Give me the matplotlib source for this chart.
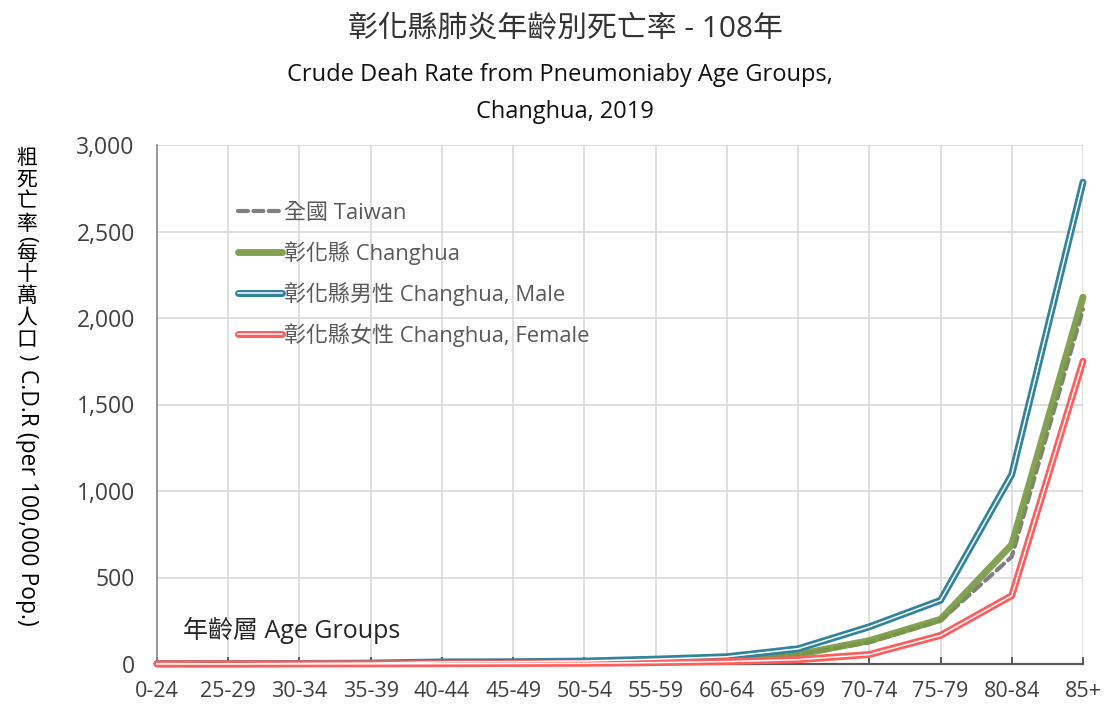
import matplotlib
matplotlib.use("Agg")
import matplotlib.pyplot as plt
from matplotlib.legend_handler import HandlerTuple

plt.rcParams['font.family'] = ['Open Sans', 'Noto Sans CJK TC', 'DejaVu Sans']

categories = ['0-24', '25-29', '30-34', '35-39', '40-44', '45-49', '50-54',
              '55-59', '60-64', '65-69', '70-74', '75-79', '80-84', '85+']
taiwan = [1, 1, 2, 3, 5, 7, 10, 15, 25, 55, 125, 250, 620, 2050]
changhua = [1, 1, 2, 3, 6, 8, 10, 15, 25, 55, 135, 258, 690, 2120]
male = [2, 1, 3, 5, 12, 13, 17, 28, 42, 88, 215, 368, 1095, 2785]
female = [1, 1, 1, 1, 2, 3, 4, 8, 14, 25, 55, 165, 395, 1750]
yticks = [0, 500, 1000, 1500, 2000, 2500, 3000]

labels = ['全國 Taiwan', '彰化縣 Changhua', '彰化縣男性 Changhua, Male', '彰化縣女性 Changhua, Female']
title = '彰化縣肺炎年齡別死亡率 - 108年'
subtitle1 = 'Crude Deah Rate from Pneumoniaby Age Groups,'
subtitle2 = 'Changhua, 2019'
ylabel_cjk = ['粗', '死', '亡', '率']
ylabel_cjk2 = ['每', '十', '萬', '人', '口']
ylabel_latin = 'C.D.R (per 100,000 Pop.)'
xlabel = '年齡層 Age Groups'

W, H = 1104, 707
fig = plt.figure(figsize=(W / 100, H / 100), dpi=100)
ax = fig.add_axes([157 / W, 1 - 664 / H, (1083 - 157) / W, (664 - 145) / H])

x = list(range(len(categories)))
c_gray = '#808080'
c_green = '#7A9A45'
c_blue = '#31849B'
c_red = '#FF5C5C'

l1, = ax.plot(x, taiwan, color=c_gray, lw=3.0, dashes=(2.4, 1.3), solid_capstyle='round',
              dash_capstyle='round', clip_on=False, zorder=3)
l2, = ax.plot(x, changhua, color=c_green, lw=5.0, alpha=0.92, solid_capstyle='round',
              clip_on=False, zorder=4)
l3a, = ax.plot(x, male, color=c_blue, lw=5.0, solid_capstyle='round', clip_on=False, zorder=5)
l3b, = ax.plot(x, male, color='white', lw=1.1, clip_on=False, zorder=6)
l4a, = ax.plot(x, female, color=c_red, lw=5.0, solid_capstyle='round', clip_on=False, zorder=5)
l4b, = ax.plot(x, female, color='white', lw=1.1, clip_on=False, zorder=6)

ax.set_xlim(0, len(categories) - 1)
ax.set_ylim(0, 3000)
ax.set_yticks(yticks)
ax.set_yticklabels([f'{v:,}' for v in yticks])
ax.set_xticks(x)
ax.set_xticklabels(categories)
ax.grid(True, color='#D9D9D9', lw=1.2)
ax.set_axisbelow(True)
for s in ['top', 'right']:
    ax.spines[s].set_visible(False)
ax.spines['left'].set_color('#898989')
ax.spines['left'].set_linewidth(1.2)
ax.spines['bottom'].set_color('#595959')
ax.spines['bottom'].set_linewidth(1.6)
ax.tick_params(axis='y', length=0, labelsize=16.5, labelcolor='#404040', pad=16)
ax.tick_params(axis='x', length=5, width=1.4, color='#595959', direction='in',
               labelsize=15.5, labelcolor='#404040', pad=12)

leg = ax.legend([l1, l2, (l3a, l3b), (l4a, l4b)], labels,
                handler_map={tuple: HandlerTuple(ndivide=1)},
                loc='upper left', bbox_to_anchor=(0.078, 0.905), frameon=False,
                fontsize=15.8, labelcolor='#595959', handlelength=2.0,
                handletextpad=0.1, labelspacing=0.77, borderaxespad=0)

ax.text(0.028, 0.065, xlabel, transform=ax.transAxes, fontsize=18, color='#262626',
        ha='left', va='center')

fig.text(565 / W, 1 - 30 / H, title, ha='center', va='center', fontsize=21.5,
         color='#333333')
fig.text(560 / W, 1 - 75 / H, subtitle1, ha='center', va='center', fontsize=17,
         color='#111111')
fig.text(565 / W, 1 - 112 / H, subtitle2, ha='center', va='center', fontsize=17,
         color='#111111')

# vertical y-axis label
xc = 27 / W
fs = 15
ys = [158, 180, 202, 224]
for ch, yy in zip(ylabel_cjk, ys):
    fig.text(xc, 1 - yy / H, ch, ha='center', va='center', fontsize=fs, color='black')
fig.text(xc, 1 - 239 / H, '(', ha='center', va='center', fontsize=fs, rotation=-90, color='black')
ys2 = [254, 275, 297, 319, 341]
for ch, yy in zip(ylabel_cjk2, ys2):
    fig.text(xc, 1 - yy / H, ch, ha='center', va='center', fontsize=fs, color='black')
fig.text(xc, 1 - 357 / H, ')', ha='center', va='center', fontsize=fs, rotation=-90, color='black')
fig.text(xc, 1 - 369 / H, ylabel_latin, ha='center', va='top', fontsize=16.5, rotation=-90,
         color='black')

fig.savefig('out.png', dpi=100)
